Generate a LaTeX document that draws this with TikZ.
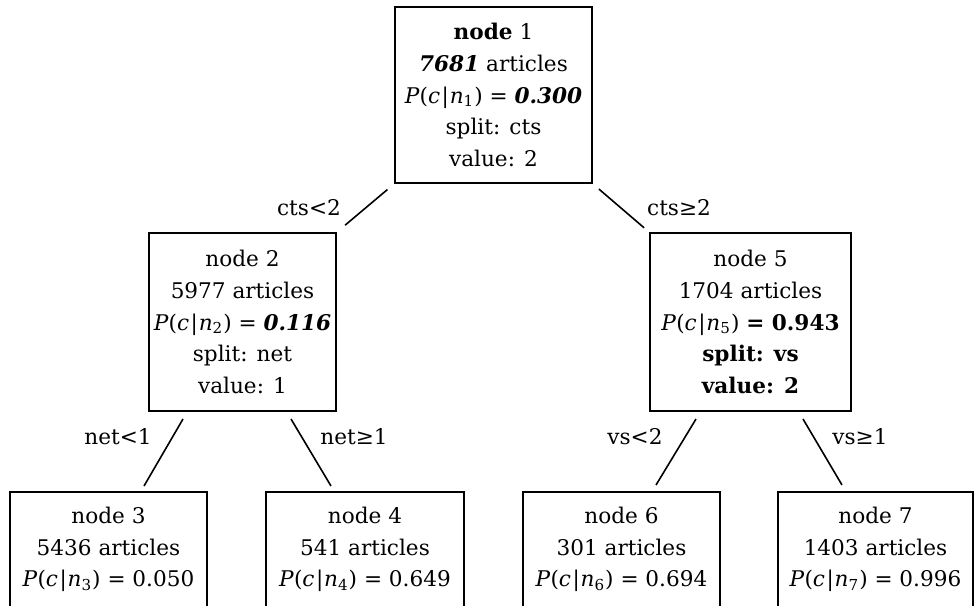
\documentclass[tikz,border=0pt]{standalone}
\usepackage{fontspec}
\setmainfont{DejaVu Serif}
\usetikzlibrary{calc}
\newcommand\pcn[1]{\textit{P}(\textit{c}\kern0.8pt|\kern0.4pt\textit{n}\textsubscript{#1})}
\begin{document}
\begin{tikzpicture}[x=0.5pt,y=-0.5pt,
  box/.style={draw, line width=1pt, align=center, inner sep=0pt,
    font=\fontsize{10.8}{15.85}\selectfont},
  lbl/.style={font=\fontsize{10.8}{15.85}\selectfont, inner sep=0pt},
  conn/.style={line width=0.8pt}]
\useasboundingbox (0,0) rectangle (974,605);
\clip (0,0) rectangle (974,605);

\node[box, minimum width=98.5pt, minimum height=88pt] (n1) at (493.5,95)
  {{\bfseries node} 1\\ \textbf{\textit{7681}} articles\\ \pcn{1} = \textbf{\textit{0.300}}\\ split: cts\\ value: 2};
\node[box, minimum width=93.5pt, minimum height=89pt] (n2) at (242.5,322)
  {node 2\\ 5977 articles\\ \pcn{2} = \textbf{\textit{0.116}}\\ split: net\\ value: 1};
\node[box, minimum width=100.5pt, minimum height=89pt] (n5) at (750.5,322)
  {node 5\\ 1704 articles\\ \pcn{5} \textbf{= 0.943}\\ \textbf{split: vs}\\ \textbf{value: 2}};
\node[box, minimum width=98.5pt, minimum height=57.5pt] (n3) at (108.5,549.5)
  {node 3\\ 5436 articles\\ \pcn{3} = 0.050};
\node[box, minimum width=99pt, minimum height=57.5pt] (n4) at (365,549.5)
  {node 4\\ 541 articles\\ \pcn{4} = 0.649};
\node[box, minimum width=98.5pt, minimum height=57.5pt] (n6) at (621.5,549.5)
  {node 6\\ 301 articles\\ \pcn{6} = 0.694};
\node[box, minimum width=97.5pt, minimum height=57.5pt] (n7) at (875.5,549.5)
  {node 7\\ 1403 articles\\ \pcn{7} = 0.996};

\draw[conn, shorten <=4.3pt, shorten >=5.3pt] (n1.south west) -- (n2.north east);
\draw[conn, shorten <=3.9pt, shorten >=3.2pt] (n1.south east) -- (n5.north west);
\draw[conn] ($(n2.south)+(-59.5,7)$) -- ($(n3.north)+(35.5,-5)$);
\draw[conn] ($(n2.south)+(48.5,7)$) -- ($(n4.north)+(-34,-5)$);
\draw[conn] ($(n5.south)+(-54.5,7)$) -- ($(n6.north)+(34.5,-6)$);
\draw[conn] ($(n5.south)+(52.5,7)$) -- ($(n7.north)+(-33.5,-6)$);

\node[lbl] (l12) at (309,208) {cts<2};
\node[lbl] (l15) at (679,208) {cts≥2};
\node[lbl] (l23) at (118,437) {net<1};
\node[lbl] (l24) at (354,437) {net≥1};
\node[lbl] (l56) at (635,437) {vs<2};
\node[lbl] (l57) at (860,437) {vs≥1};
\end{tikzpicture}
\end{document}
